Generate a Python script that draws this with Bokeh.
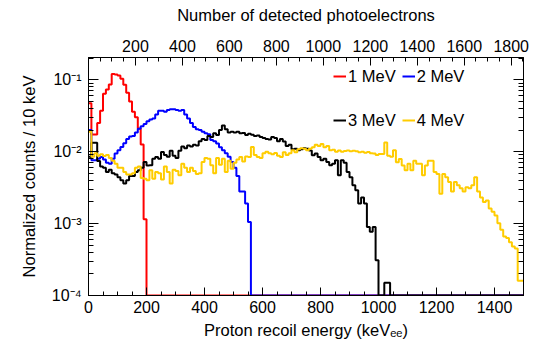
import numpy as np
from bokeh.plotting import figure
from bokeh.models import (Range1d, LinearAxis, LogAxis, FixedTicker, Legend,
                          LegendItem, CustomJSTickFormatter)
from bokeh.embed import file_html
from bokeh.resources import INLINE

# ---------------- data (normalized counts per 10 keV bin, 0..1500 keV) ----------------
bin_width_kev = 10
energy_max_kev = 1500
pe_per_kev = 1.2349

counts_1mev = [0.047, 0.0174, 0.0174, 0.025, 0.037, 0.064, 0.073, 0.086, 0.12, 0.118,
               0.115, 0.103, 0.085, 0.066, 0.050, 0.036, 0.030, 0.021, 0.0126, 0.00115] + [0.0] * 130

counts_2mev = ([0.020, 0.0076, 0.0076, 0.0080, 0.0084, 0.0078, 0.0070, 0.0068, 0.0080, 0.0094,
                0.0105, 0.0116, 0.0131, 0.0150, 0.0163, 0.0165, 0.0185, 0.0208, 0.0225, 0.0243,
                0.0265, 0.028, 0.029, 0.033, 0.037, 0.037, 0.036, 0.038, 0.039, 0.039,
                0.038, 0.037, 0.038, 0.033, 0.029, 0.025, 0.022, 0.0205, 0.020, 0.019,
                0.018, 0.0175, 0.0145, 0.014, 0.013, 0.0115, 0.0105, 0.0095, 0.0085, 0.0072,
                0.0060, 0.0046, 0.0028, 0.0028, 0.0019, 0.00105] + [0.0] * 94)

counts_3mev = ([0.0085, 0.0133, 0.0133, 0.0074, 0.0062, 0.0060, 0.0052, 0.0056, 0.0050, 0.0048,
                0.0044, 0.0040, 0.0036, 0.0040, 0.0046, 0.0046, 0.0052, 0.0055, 0.0060, 0.0072,
                0.0064, 0.0065, 0.0080, 0.0084, 0.0080, 0.0099, 0.0090, 0.0085, 0.0103, 0.0088,
                0.0082, 0.0103, 0.0118, 0.0112, 0.0122, 0.0118, 0.0125,
                0.0122, 0.0140, 0.0150, 0.0145, 0.0165, 0.0160, 0.0180, 0.0170, 0.0200, 0.0232,
                0.0205, 0.0185, 0.0190, 0.0185, 0.0190, 0.0180, 0.0182, 0.0170, 0.0178, 0.0172,
                0.0165, 0.0168, 0.0160, 0.0155, 0.0150, 0.0148, 0.0160, 0.0155, 0.0140, 0.0150,
                0.0138, 0.0120, 0.0125, 0.0108, 0.0110, 0.0105, 0.0108, 0.0112,
                0.011, 0.0104, 0.0089, 0.0094, 0.0084, 0.0076, 0.008, 0.0072, 0.0065, 0.0068,
                0.0076, 0.0047, 0.0076, 0.0070, 0.0052, 0.0044, 0.0034, 0.0029, 0.0019, 0.0023,
                0.0019, 0.0009, 0.00077, 0.0009, 0.00031,
                0.0, 0.0, 0.00015, 0.00015] + [0.0] * 46)

counts_4mev = [0.019, 0.0085, 0.0095, 0.0088, 0.0092, 0.0087, 0.0090, 0.0082, 0.0075, 0.0068,
               0.0060, 0.0060, 0.0052, 0.0048, 0.0048, 0.0050, 0.0060, 0.0062, 0.0043, 0.0042,
               0.0040, 0.0055, 0.0042, 0.0052, 0.0050, 0.0041, 0.0062, 0.0052, 0.0036, 0.0056,
               0.0054, 0.0047, 0.0068, 0.0060, 0.0052, 0.0060, 0.0054,
               0.0049, 0.0050, 0.0072, 0.0082, 0.0080, 0.0065, 0.0050, 0.0082, 0.0066, 0.0080,
               0.0052, 0.0075, 0.0058, 0.0070, 0.0078, 0.0084, 0.0073, 0.0086, 0.0084, 0.0116,
               0.0090, 0.0084, 0.0082, 0.0095, 0.0100, 0.0095, 0.0092, 0.0096, 0.0088, 0.0084,
               0.0098, 0.0090, 0.0095, 0.0105, 0.0098, 0.0108, 0.0112, 0.0110,
               0.0105, 0.0110, 0.0115, 0.0125, 0.0120, 0.0128, 0.0115, 0.0120, 0.0105, 0.0106,
               0.0100, 0.0104, 0.0100, 0.0102, 0.0104, 0.0101, 0.0103, 0.0101, 0.0098, 0.0100,
               0.0097, 0.0099, 0.0095, 0.0094, 0.0090,
               0.0093, 0.0093, 0.0134, 0.0088, 0.0085, 0.0105, 0.0071, 0.0079, 0.0064, 0.0055,
               0.0068, 0.0055, 0.0075, 0.0068, 0.0068, 0.0047, 0.0064, 0.0075, 0.0075, 0.0052,
               0.0049, 0.0026, 0.0049, 0.0044, 0.0038, 0.0028, 0.0038, 0.0034, 0.0031, 0.0028,
               0.0032, 0.0031, 0.0034, 0.0044, 0.0028, 0.0023, 0.0020, 0.0021, 0.00162, 0.00146,
               0.0013, 0.00101, 0.00082, 0.00066, 0.00063, 0.00055, 0.00048, 0.00045, 0.00016, 0.00016]

series_values = [counts_1mev, counts_2mev, counts_3mev, counts_4mev]
series_labels = ["1 MeV", "2 MeV", "3 MeV", "4 MeV"]
series_colors = ["#FF0000", "#0000FF", "#000000", "#FFCC00"]

energy_ticks = [0, 200, 400, 600, 800, 1000, 1200, 1400]
pe_ticks = [200, 400, 600, 800, 1000, 1200, 1400, 1600, 1800]
y_ticks = [1e-4, 1e-3, 1e-2, 1e-1]
y_tick_labels = ["10\u207b\u2074", "10\u207b\u00b3", "10\u207b\u00b2", "10\u207b\u00b9"]

y_min, y_max = 1e-4, 0.204
FONT = "Liberation Sans"

# ---------------- figure ----------------
p = figure(width=543, height=344, output_backend="svg", toolbar_location=None,
           x_range=Range1d(0, energy_max_kev), y_range=Range1d(y_min, y_max),
           y_axis_type="log",
           min_border_left=88, min_border_right=20, min_border_top=57, min_border_bottom=49)
p.extra_x_ranges = {"pe": Range1d(0, energy_max_kev * pe_per_kev)}
p.grid.visible = False
p.outline_line_color = "black"
p.outline_line_width = 1
p.background_fill_color = "white"
p.border_fill_color = "white"

edges = np.arange(0, energy_max_kev + bin_width_kev, bin_width_kev)
renderers = []
for vals, col in zip(series_values, series_colors):
    v = np.maximum(np.array(vals, dtype=float), y_min)
    yv = np.append(v, v[-1])
    r = p.step(x=edges, y=yv, mode="after", line_color=col, line_width=2)
    renderers.append(r)


def style_axis(ax, size="16px"):
    ax.major_label_text_font = FONT
    ax.major_label_text_font_size = size
    ax.major_label_text_color = "black"
    ax.axis_label_text_font = FONT
    ax.axis_label_text_font_size = "16.5px"
    ax.axis_label_text_font_style = "normal"
    ax.axis_label_text_color = "black"
    ax.axis_line_color = "black"
    ax.major_tick_line_color = "black"
    ax.minor_tick_line_color = "black"
    ax.major_tick_out = 0
    ax.minor_tick_out = 0


# bottom axis (keV)
xa = p.xaxis[0]
xa.ticker = FixedTicker(ticks=energy_ticks, minor_ticks=list(range(0, energy_max_kev + 1, 50)))
style_axis(xa)
xa.major_tick_in = 8
xa.minor_tick_in = 4
xa.major_label_standoff = 5
xa.axis_label = "Proton recoil energy (keV\u2091\u2091)"
xa.axis_label_standoff = 5

# top axis (photoelectrons)
ta = LinearAxis(x_range_name="pe",
                ticker=FixedTicker(ticks=pe_ticks, minor_ticks=list(range(0, 1851, 50))),
                axis_label="Number of detected photoelectrons")
style_axis(ta)
ta.major_tick_in = 8
ta.minor_tick_in = 4
ta.major_label_standoff = 6
ta.axis_label_standoff = 13
p.add_layout(ta, "above")

# left axis (log)
y_minor = [m * 10.0 ** e for e in range(-4, 0) for m in range(2, 10) if m * 10.0 ** e <= y_max]
ya = p.yaxis[0]
ya.ticker = FixedTicker(ticks=y_ticks, minor_ticks=y_minor)
style_axis(ya)
ya.major_label_overrides = dict(zip(y_ticks, y_tick_labels))
ya.major_tick_in = 10
ya.minor_tick_in = 5
ya.major_label_standoff = 7
ya.axis_label = "Normalized counts / 10 keV"
ya.axis_label_standoff = 11

# right axis: ticks only
ra = LogAxis(ticker=FixedTicker(ticks=y_ticks, minor_ticks=y_minor),
             formatter=CustomJSTickFormatter(code="return ''"))
style_axis(ra, size="1px")
ra.major_tick_in = 10
ra.minor_tick_in = 5
ra.major_label_standoff = 0
p.add_layout(ra, "right")

# legend (two rows of two entries)
legend_common = dict(orientation="horizontal", glyph_width=13, glyph_height=20,
                     label_height=20, label_standoff=2, spacing=6, padding=0, margin=0,
                     border_line_color=None, background_fill_alpha=0,
                     label_text_font=FONT, label_text_font_size="16.5px",
                     label_text_color="black")
leg1 = Legend(items=[LegendItem(label=series_labels[0], renderers=[renderers[0]]),
                     LegendItem(label=series_labels[1], renderers=[renderers[1]])],
              location=(245, 209), **legend_common)
leg2 = Legend(items=[LegendItem(label=series_labels[2], renderers=[renderers[2]]),
                     LegendItem(label=series_labels[3], renderers=[renderers[3]])],
              location=(245, 165), **legend_common)
p.add_layout(leg1)
p.add_layout(leg2)

open("out.html", "w").write(file_html(p, INLINE))
